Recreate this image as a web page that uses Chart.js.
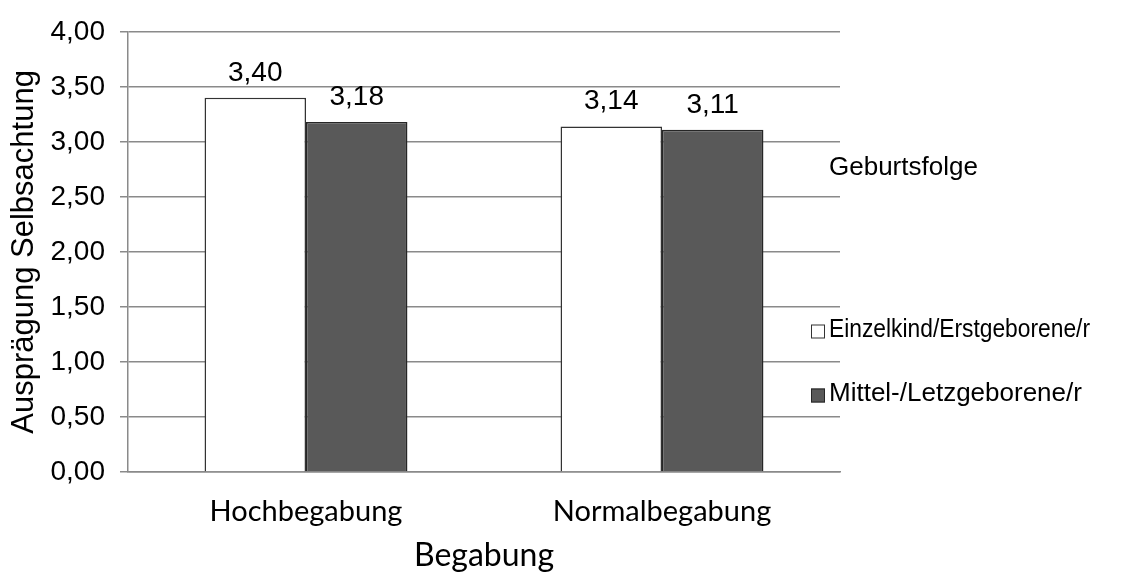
<!DOCTYPE html>
<html>
<head>
<meta charset="utf-8">
<script src="https://cdn.jsdelivr.net/npm/chart.js@4/dist/chart.umd.min.js"></script>
<style>
  html, body { margin: 0; padding: 0; background: #ffffff; }
  #wrap { width: 1137px; height: 573px; }
</style>
</head>
<body>
<div id="wrap"><canvas id="chart" width="1137" height="573"></canvas></div>
<script>
// Mittelwerte der Selbstachtung nach Begabung und Geburtsfolge
const categories = ['Hochbegabung', 'Normalbegabung'];
const seriesNames = ['Einzelkind/Erstgeborene/r', 'Mittel-/Letzgeborene/r'];
const firstBorn = [3.40, 3.14];
const laterBorn = [3.18, 3.11];
const yTicks = [0, 0.5, 1, 1.5, 2, 2.5, 3, 3.5, 4];
const legendTitle = 'Geburtsfolge';
const yTitle = 'Ausprägung Selbsachtung';
const xTitle = 'Begabung';

const fmt = v => v.toFixed(2).replace('.', ',');
const ARIAL = "'Liberation Sans', Arial, sans-serif";
const CALI = "Lato, 'Open Sans', sans-serif";
const GRID = '#8a8a8a';

// value labels above each bar
const valueLabels = {
  id: 'valueLabels',
  afterDatasetsDraw(chart) {
    const ctx = chart.ctx;
    ctx.save();
    ctx.font = '28px ' + ARIAL;
    ctx.fillStyle = '#000';
    ctx.textAlign = 'center';
    ctx.textBaseline = 'alphabetic';
    chart.data.datasets.forEach((ds, di) => {
      chart.getDatasetMeta(di).data.forEach((bar, i) => {
        ctx.fillText(fmt(ds.data[i]), bar.x, bar.y - 17);
      });
    });
    ctx.restore();
  }
};

// legend on the right: title line and one row per series
const sideLegend = {
  id: 'sideLegend',
  afterDraw(chart, args, opts) {
    const ctx = chart.ctx;
    ctx.save();
    ctx.font = '26px ' + ARIAL;
    ctx.fillStyle = '#000';
    ctx.textAlign = 'left';
    ctx.textBaseline = 'middle';
    ctx.fillText(opts.title, opts.textX, opts.titleY);
    chart.data.datasets.forEach((ds, i) => {
      const y = opts.rowY[i];
      ctx.fillStyle = ds.backgroundColor;
      ctx.fillRect(opts.boxX, y - opts.box / 2, opts.box, opts.box);
      ctx.strokeStyle = ds.borderColor;
      ctx.lineWidth = 1;
      ctx.strokeRect(opts.boxX + 0.5, y - opts.box / 2 + 0.5, opts.box - 1, opts.box - 1);
      ctx.fillStyle = '#000';
      ctx.fillText(ds.label, opts.textX, y - 1.5, opts.maxTextWidth);
    });
    ctx.restore();
  }
};

new Chart(document.getElementById('chart'), {
  type: 'bar',
  data: {
    labels: categories,
    datasets: [
      {
        label: seriesNames[0],
        data: firstBorn,
        backgroundColor: '#ffffff',
        borderColor: '#333333',
        borderWidth: 1.5
      },
      {
        label: seriesNames[1],
        data: laterBorn,
        backgroundColor: '#595959',
        borderColor: '#262626',
        borderWidth: 1.5
      }
    ]
  },
  options: {
    responsive: false,
    animation: false,
    devicePixelRatio: 1,
    layout: { padding: { top: 29, right: 297, bottom: 0, left: 0 } },
    datasets: { bar: { categoryPercentage: 0.57, barPercentage: 1.0 } },
    plugins: {
      legend: { display: false },
      tooltip: { enabled: false },
      sideLegend: {
        title: legendTitle,
        textX: 829,
        titleY: 168,
        boxX: 811,
        box: 14,
        rowY: [331.5, 395.5],
        maxTextWidth: 261
      }
    },
    scales: {
      x: {
        grid: { display: false, drawTicks: false },
        border: { display: true, color: GRID, width: 1.5 },
        ticks: { color: '#000', font: { family: CALI, size: 29 }, padding: 22 },
        title: {
          display: true,
          text: xTitle,
          color: '#000',
          font: { family: CALI, size: 32 },
          padding: { top: 0, bottom: -2 }
        },
        afterFit(scale) { scale.height = 101; }
      },
      y: {
        min: 0,
        max: 4,
        afterBuildTicks(scale) { scale.ticks = yTicks.map(v => ({ value: v })); },
        ticks: {
          color: '#000',
          font: { family: ARIAL, size: 28 },
          padding: 15,
          callback: v => fmt(v)
        },
        grid: { color: GRID, lineWidth: 1.5, drawTicks: true, tickLength: 8 },
        border: { display: true, color: GRID, width: 1.5 },
        title: {
          display: true,
          text: yTitle,
          color: '#000',
          font: { family: ARIAL, size: 31 },
          padding: { top: 6, bottom: 0 }
        },
        afterFit(scale) { scale.width = 128; }
      }
    }
  },
  plugins: [valueLabels, sideLegend]
});
</script>
</body>
</html>
